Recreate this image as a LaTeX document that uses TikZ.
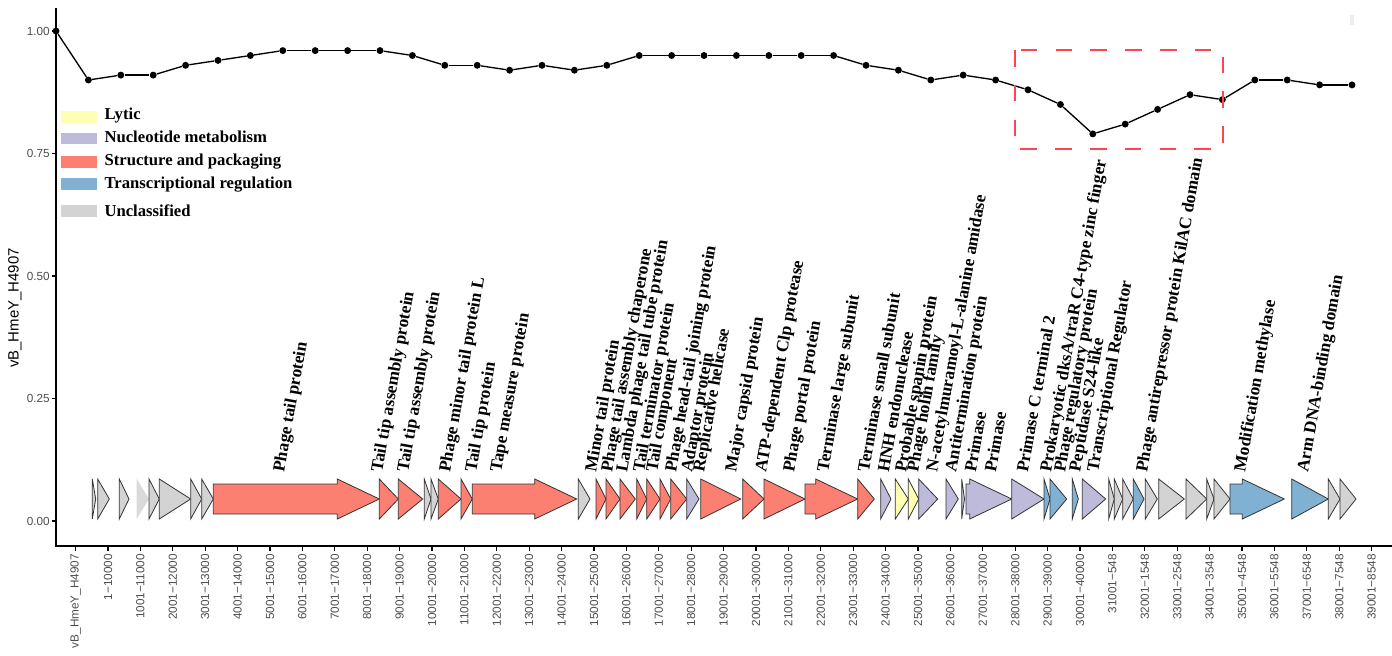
\documentclass[tikz,border=0pt]{standalone}
\usepackage{fontspec}
\setmainfont{Liberation Serif}
\setsansfont{Liberation Sans}
\usetikzlibrary{positioning}

\definecolor{lytic}{HTML}{FFFFB3}
\definecolor{nucleo}{HTML}{BEBADA}
\definecolor{struct}{HTML}{FB8072}
\definecolor{transc}{HTML}{80B1D3}
\definecolor{unclass}{HTML}{D3D3D3}
\definecolor{axisgray}{HTML}{4D4D4D}
\definecolor{boxred}{HTML}{FF4452}

\tikzset{
  genebox/.style={draw=black!80, line width=0.6pt},
  genelabel/.style={rotate=80, anchor=west, inner sep=0pt, font=\bfseries\fontsize{13}{13}\selectfont},
  legkey/.style={minimum width=27.2pt, minimum height=8.8pt, inner sep=0pt},
  legtext/.style={anchor=west, inner sep=0pt, font=\bfseries\fontsize{12.5}{13}\selectfont},
  xtick/.style={rotate=90, anchor=east, inner sep=0pt, text=axisgray, font=\sffamily\fontsize{8.8}{9}\selectfont},
  ytick/.style={anchor=east, inner sep=0pt, text=axisgray, font=\sffamily\fontsize{8.8}{9}\selectfont},
  axisline/.style={line width=0.8pt},
  dot/.style={circle, fill=black, minimum size=5.2pt, inner sep=0pt},
  plotline/.style={line width=1pt},
  zoombox/.style={draw=boxred, line width=2.2pt, dash pattern=on 12.5pt off 13.6pt}
}

% gene arrow: start, end, fill
\newcommand\gene[3]{%
  \pgfmathsetmacro\hx{max(#1,#2-42)}%
  \filldraw[genebox, fill=#3] (#1,484) -- (\hx,484) -- (\hx,479) -- (#2,499)
    -- (\hx,519) -- (\hx,514) -- (#1,514) -- cycle;}

\begin{document}
\begin{tikzpicture}[x=0.75pt, y=-0.75pt]
\useasboundingbox (0,0) rectangle (1392,656);

% axes
\draw[axisline] (56,8) -- (56,546) -- (1392,546);
\foreach \v/\lab in {0/0.00, 0.25/0.25, 0.5/0.50, 0.75/0.75, 1/1.00} {
  \draw[axisline] (52,{521-490*\v}) -- (56,{521-490*\v});
  \node[ytick] (y\lab) at (50,{521-490*\v}) {\lab};
}
\node[rotate=90, font=\sffamily\fontsize{11.2}{12}\selectfont] (ytitle) at (15,308) {vB\_HmeY\_H4907};

\draw[axisline] (75.6,546) -- ++(0,5);
\node[xtick] (t0) at (75.6,554) {vB\_HmeY\_H4907};
\foreach \k in {1,...,40} {
  \edef\lo{\the\numexpr(\k-1)*1000+1\relax}
  \ifnum\k<32 \edef\hi{\the\numexpr(\k+9)*1000\relax}\else\edef\hi{\the\numexpr(\k-32)*1000+548\relax}\fi
  \draw[axisline] ({75.6+32.4*\k},546) -- ++(0,5);
  \node[xtick] (t\k) at ({75.6+32.4*\k},554) {\lo−\hi};
}

% similarity line
\foreach \v [count=\k from 0] in {1.00,0.90,0.91,0.91,0.93,0.94,0.95,0.96,0.96,0.96,0.96,
    0.95,0.93,0.93,0.92,0.93,0.92,0.93,0.95,0.95,0.95,0.95,0.95,0.95,0.95,0.93,0.92,
    0.90,0.91,0.90,0.88,0.85,0.79,0.81,0.84,0.87,0.86,0.90,0.90,0.89,0.89}
  \node[dot] (p\k) at ({56+32.4*\k},{521-490*\v}) {};
\foreach \k [evaluate=\k as \j using int(\k+1)] in {0,...,39}
  \draw[plotline] (p\k) -- (p\j);

\draw[zoombox] (1015,50) rectangle (1223,149);
\fill[black!7] (1350,15) rectangle (1354,25);

% legend
\node[legkey, fill=lytic] (klytic) at (79.2,116.8) {};
\node[legkey, fill=nucleo] (knucleo) at (79.2,138.5) {};
\node[legkey, fill=struct] (kstruct) at (79.2,161.8) {};
\node[legkey, fill=transc] (ktransc) at (79.2,184.1) {};
\node[legkey, fill=unclass] (kunclass) at (79.2,210.8) {};
\node[legtext, right=5pt of klytic, yshift=1pt] (llytic) {Lytic};
\node[legtext, right=5pt of knucleo, yshift=1pt] (lnucleo) {Nucleotide metabolism};
\node[legtext, right=5pt of kstruct] (lstruct) {Structure and packaging};
\node[legtext, right=5pt of ktransc] (ltransc) {Transcriptional regulation};
\node[legtext, right=5pt of kunclass] (lunclass) {Unclassified};

% genes
\gene{92.3}{95.7}{unclass}
\gene{97.7}{109.3}{unclass}
\gene{119.3}{129}{unclass}
\gene{136.7}{149}{unclass!85,draw=none}
\gene{149}{159.3}{unclass}
\gene{159.3}{190.7}{unclass}
\gene{190.7}{201.7}{unclass}
\gene{201.7}{213.3}{unclass}
\gene{213.3}{379.3}{struct}
\gene{379.3}{398.3}{struct}
\gene{398.3}{422.7}{struct}
\gene{424.3}{431}{unclass}
\gene{431}{438.3}{unclass}
\gene{438.3}{461}{struct}
\gene{461}{472.3}{struct}
\gene{472.3}{576.7}{struct}
\gene{578.3}{590}{unclass}
\gene{596}{606}{struct}
\gene{606}{620}{struct}
\gene{620}{635.3}{struct}
\gene{636.7}{646.7}{struct}
\gene{646.7}{660}{struct}
\gene{660}{670.7}{struct}
\gene{670.7}{686.7}{struct}
\gene{686.7}{699}{nucleo}
\gene{700.7}{740.7}{struct}
\gene{742.7}{764}{struct}
\gene{764}{805}{struct}
\gene{805}{857.7}{struct}
\gene{857.7}{874.3}{struct}
\gene{880.7}{891}{nucleo}
\gene{895.3}{908.3}{lytic}
\gene{908.3}{918.7}{lytic}
\gene{918.7}{937.7}{nucleo}
\gene{946}{958.3}{nucleo}
\gene{961.7}{964.5}{nucleo}
\gene{966}{1011.7}{nucleo}
\gene{1011.7}{1044}{nucleo}
\gene{1044}{1050}{transc}
\gene{1050}{1066.7}{transc}
\gene{1072.3}{1078.3}{transc}
\gene{1082.3}{1105.7}{nucleo}
\gene{1108.7}{1114.3}{unclass}
\gene{1114.3}{1122.7}{unclass}
\gene{1122.7}{1133.3}{unclass}
\gene{1133.3}{1144}{transc}
\gene{1145.3}{1157.3}{unclass}
\gene{1158.7}{1184.3}{unclass}
\gene{1186}{1206.7}{unclass}
\gene{1206.7}{1214}{unclass}
\gene{1214}{1230}{unclass}
\gene{1230}{1284.3}{transc}
\gene{1291.7}{1328.3}{transc}
\gene{1328.3}{1340}{unclass}
\gene{1340}{1356}{unclass}

% gene labels
\node[genelabel] (g1) at (280,472) {Phage tail protein};
\node[genelabel] (g2) at (378,472) {Tail tip assembly protein};
\node[genelabel] (g3) at (404,472) {Tail tip assembly protein};
\node[genelabel] (g4) at (446,472) {Phage minor tail protein L};
\node[genelabel] (g5) at (472,472) {Tail tip protein};
\node[genelabel] (g6) at (497,472) {Tape measure protein};
\node[genelabel] (g7) at (592,472) {Minor tail protein};
\node[genelabel] (g8) at (608,472) {Phage tail assembly chaperone};
\node[genelabel] (g9) at (623,472) {Lambda phage tail tube protein};
\node[genelabel] (g10) at (640,472) {Tail terminator protein};
\node[genelabel] (g11) at (653,472) {Tail component};
\node[genelabel] (g12) at (672,472) {Phage head-tail joining protein};
\node[genelabel] (g13) at (688,472) {Adaptor protein};
\node[genelabel] (g14) at (700,472) {Replicative helicase};
\node[genelabel] (g15) at (732,472) {Major capsid protein};
\node[genelabel] (g16) at (762,472) {ATP-dependent Clp protease};
\node[genelabel] (g17) at (790,472) {Phage portal protein};
\node[genelabel] (g18) at (824,472) {Terminase large subunit};
\node[genelabel] (g19) at (863,472) {Terminase small subunit};
\node[genelabel] (g20) at (883,472) {HNH endonuclease};
\node[genelabel] (g21) at (902,472) {Probable spanin protein};
\node[genelabel] (g22) at (914,472) {Phage holin family};
\node[genelabel] (g23) at (933,472) {N-acetylmuramoyl-L-alanine amidase};
\node[genelabel] (g24) at (952,472) {Antitermination protein};
\node[genelabel] (g25) at (970,472) {Primase};
\node[genelabel] (g26) at (990,472) {Primase};
\node[genelabel] (g27) at (1022,472) {Primase C terminal 2};
\node[genelabel] (g28) at (1047,472) {Prokaryotic dksA/traR C4-type zinc finger};
\node[genelabel] (g29) at (1061,472) {Phage regulatory protein};
\node[genelabel] (g30) at (1076,472) {Peptidase S24-like};
\node[genelabel] (g31) at (1094,472) {Transcriptional Regulator};
\node[genelabel] (g32) at (1143,472) {Phage antirepressor protein KilAC domain};
\node[genelabel] (g33) at (1241,472) {Modification methylase};
\node[genelabel] (g34) at (1304,472) {Arm DNA-binding domain};
\end{tikzpicture}
\end{document}
